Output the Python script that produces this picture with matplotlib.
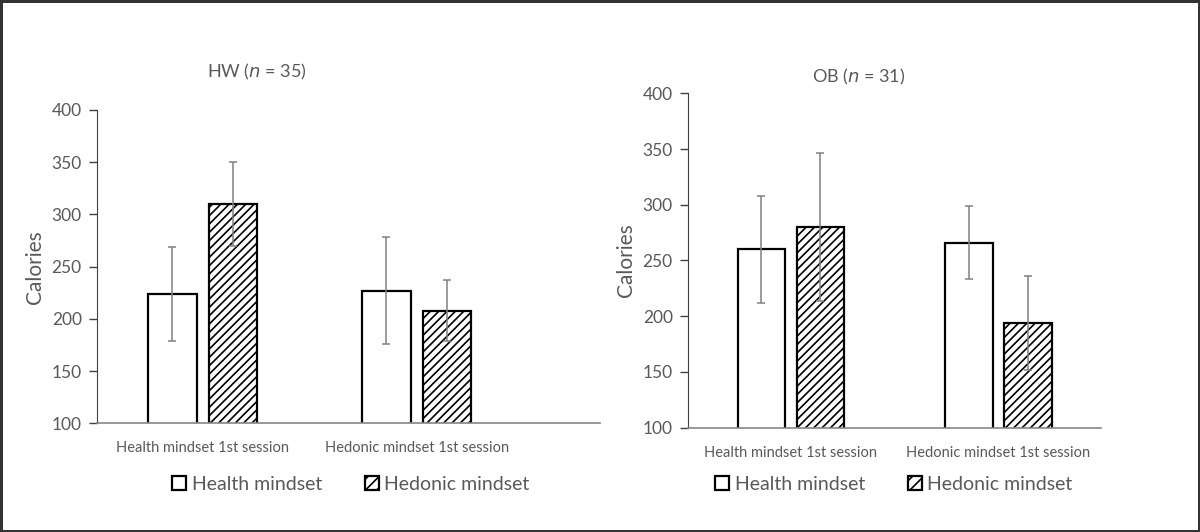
#!/usr/bin/env python3

import matplotlib.pyplot as plt
import matplotlib.patches as mpatches
import numpy as np

plt.rcParams['font.family'] = ['Lato', 'DejaVu Sans']
plt.rcParams['hatch.linewidth'] = 1.2

categories = ["Health mindset 1st session", "Hedonic mindset 1st session"]
series = ["Health mindset", "Hedonic mindset"]

# HW group (n = 35)
hw_health = [224, 227]
hw_health_err = [45, 51]
hw_hedonic = [310, 208]
hw_hedonic_err = [40, 29]

# OB group (n = 31)
ob_health = [260, 266]
ob_health_err = [48, 33]
ob_hedonic = [280, 194]
ob_hedonic_err = [66, 42]

TXT = "#595959"
ERR = "#808080"

fig = plt.figure(figsize=(12, 5.32), dpi=100)
fig.patch.set_edgecolor("#333333")
fig.patch.set_linewidth(2.5)

ax1 = fig.add_axes([97 / 1200, 1 - 423.3 / 532, (600 - 97) / 1200, (423.3 - 110) / 532])
ax2 = fig.add_axes([688 / 1200, 1 - 427.7 / 532, (1101 - 688) / 1200, (427.7 - 93.3) / 532])


def draw(ax, health, health_err, hedonic, hedonic_err, xlim):
    x = np.arange(len(categories))
    w = 0.228
    off = 0.142
    ek = dict(ecolor=ERR, elinewidth=1.1, capsize=3, capthick=1.1)
    ax.bar(x - off, health, w, bottom=0, color="white", edgecolor="black", linewidth=1.6,
           yerr=health_err, error_kw=ek, zorder=2)
    ax.bar(x + off, hedonic, w, bottom=0, color="white", edgecolor="black", linewidth=1.6,
           hatch="////", yerr=hedonic_err, error_kw=ek, zorder=2)
    ax.set_ylim(100, 400)
    ax.set_xlim(*xlim)
    ax.set_yticks(range(100, 401, 50))
    ax.set_xticks(x)
    ax.set_xticklabels(categories, fontsize=10.5, color=TXT)
    ax.tick_params(axis="x", length=0, pad=13)
    ax.tick_params(axis="y", length=6, width=1, color="#404040", labelsize=12.5,
                   labelcolor=TXT, pad=5)
    for s in ["top", "right"]:
        ax.spines[s].set_visible(False)
    ax.spines["left"].set_color("#404040")
    ax.spines["bottom"].set_color("#868686")
    ax.spines["bottom"].set_linewidth(1.2)
    ax.set_ylabel("Calories", fontsize=15, color=TXT, labelpad=5)


draw(ax1, hw_health, hw_health_err, hw_hedonic, hw_hedonic_err, (-0.493, 1.857))
draw(ax2, ob_health, ob_health_err, ob_hedonic, ob_hedonic_err, (-0.496, 1.494))

fig.text(257 / 1200, 1 - 72 / 532, r"HW ($\it{n}$ = 35)", ha="center", va="center",
         fontsize=13, color=TXT)
fig.text(859 / 1200, 1 - 77 / 532, r"OB ($\it{n}$ = 31)", ha="center", va="center",
         fontsize=13, color=TXT)

for cx in [351, 894]:
    handles = [mpatches.Patch(facecolor="white", edgecolor="black", linewidth=1.6),
               mpatches.Patch(facecolor="white", edgecolor="black", linewidth=1.6, hatch="///")]
    leg = fig.legend(handles, series, loc="center", bbox_to_anchor=(cx / 1200, 1 - 484 / 532),
                     ncol=2, frameon=False, fontsize=14, handlelength=0.7, handleheight=0.7,
                     handletextpad=0.3, columnspacing=2.2, borderaxespad=0)
    for t in leg.get_texts():
        t.set_color(TXT)

plt.savefig("out.png", dpi=100)
